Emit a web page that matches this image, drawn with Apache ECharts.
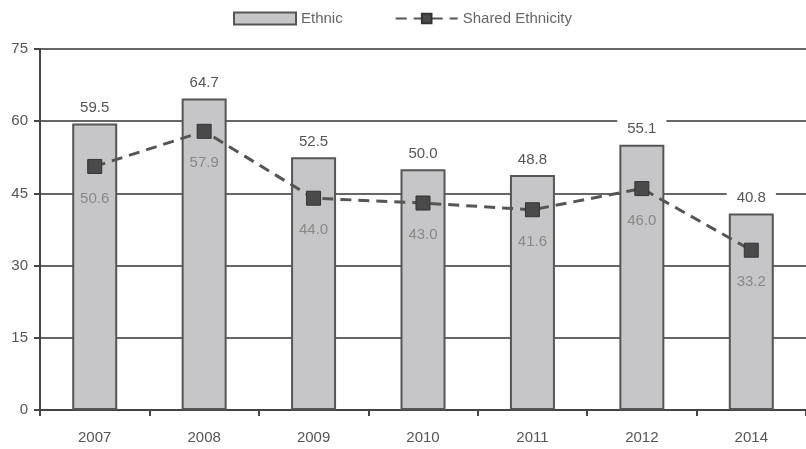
<!DOCTYPE html>
<html>
<head>
<meta charset="utf-8">
<script src="https://cdn.jsdelivr.net/npm/echarts@6/dist/echarts.min.js"></script>
<style>
html, body { margin: 0; padding: 0; background: #fff; }
#chart { width: 806px; height: 449px; }
</style>
</head>
<body>
<div id="chart"></div>
<script>
var years = ['2007', '2008', '2009', '2010', '2011', '2012', '2014'];
var ethnic = [59.5, 64.7, 52.5, 50.0, 48.8, 55.1, 40.8];
var shared = [50.6, 57.9, 44.0, 43.0, 41.6, 46.0, 33.2];

var chart = echarts.init(document.getElementById('chart'));
var option = {
	backgroundColor: '#fff',
	animation: false,
	legend: {
		top: 6,
		left: 228,
		itemGap: 52,
		itemWidth: 62,
		itemHeight: 12,
		textStyle: { color: '#666', fontSize: 15, fontFamily: 'Liberation Sans' },
		data: [
			{ name: 'Ethnic', icon: 'rect' },
			{ name: 'Shared Ethnicity' }
		]
	},
	grid: {
		left: 40,
		top: 49,
		width: 770,
		height: 361
	},
	xAxis: {
		type: 'category',
		data: years,
		axisLine: { lineStyle: { color: '#444', width: 2 } },
		axisTick: { show: true, length: 6, lineStyle: { color: '#444', width: 2 } },
		axisLabel: { color: '#555', fontSize: 15, margin: 20, fontFamily: 'Liberation Sans' }
	},
	yAxis: {
		type: 'value',
		min: 0,
		max: 75,
		interval: 15,
		axisLine: { show: true, lineStyle: { color: '#444', width: 2 } },
		axisTick: { show: true, length: 6, lineStyle: { color: '#444', width: 2 } },
		axisLabel: { color: '#555', fontSize: 15, margin: 12, fontFamily: 'Liberation Sans' },
		splitLine: { show: true, lineStyle: { color: '#666', width: 2 } }
	},
	series: [{
		name: 'Ethnic',
		type: 'bar',
		data: ethnic,
		barWidth: 45,
		itemStyle: { color: '#c6c6c8', borderColor: '#555', borderWidth: 2 },
		label: {
			show: true,
			position: 'top',
			distance: 5,
			color: '#555',
			fontSize: 15,
			fontFamily: 'Liberation Sans',
			backgroundColor: '#fff',
			padding: [3, 10, 3, 10],
			formatter: function (p) { return p.value.toFixed(1); }
		}
	}, {
		name: 'Shared Ethnicity',
		type: 'line',
		data: shared,
		symbol: 'rect',
		symbolSize: 14,
		itemStyle: { color: '#4a4a4a', borderColor: '#333', borderWidth: 1 },
		lineStyle: { color: '#555', width: 3, type: [11, 7] },
		label: {
			show: true,
			position: 'bottom',
			distance: 17,
			color: '#888',
			fontSize: 15,
			fontFamily: 'Liberation Sans',
			formatter: function (p) { return p.value.toFixed(1); }
		},
		z: 5
	}]
};
chart.setOption(option);
window.addEventListener('resize', function () {
	chart.resize();
});
</script>
</body>
</html>
